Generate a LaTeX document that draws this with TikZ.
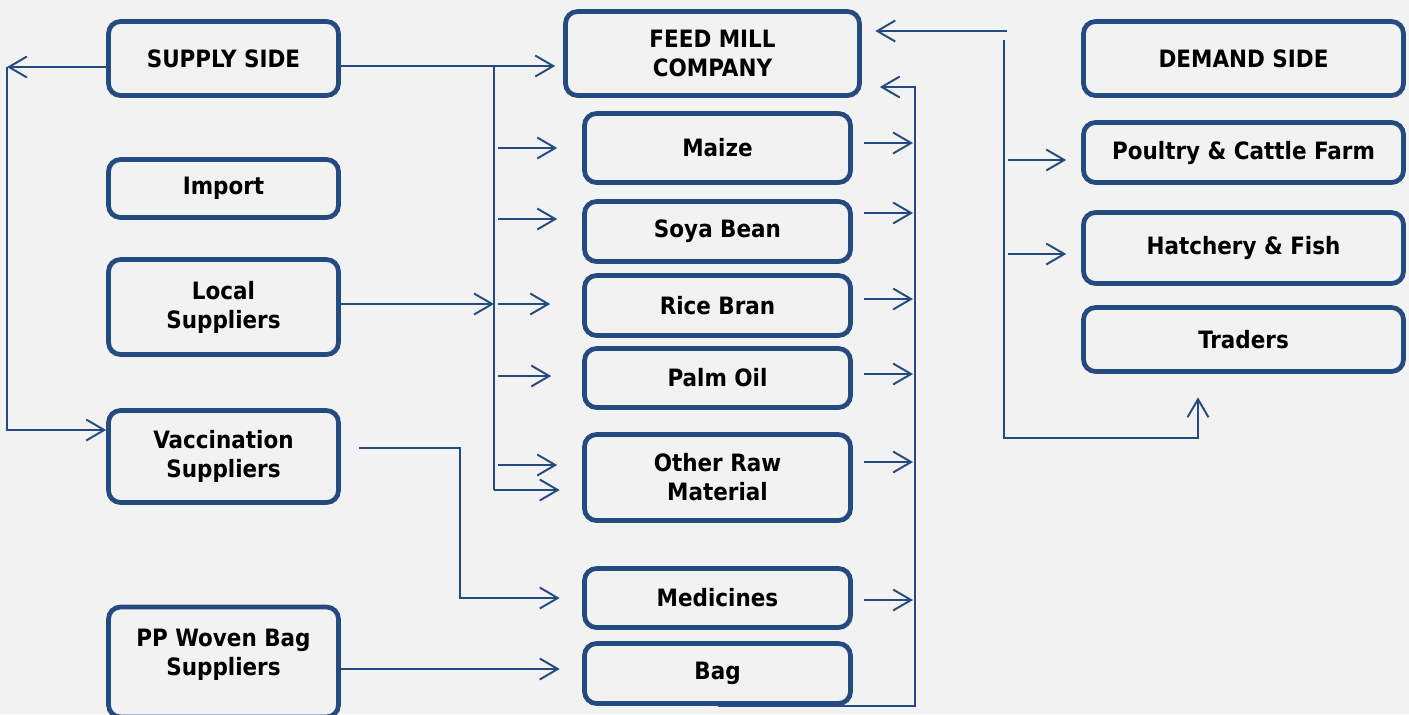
\documentclass[tikz,border=0pt]{standalone}
\usepackage{fontspec}
\setmainfont{DejaVu Sans Condensed}
\usetikzlibrary{arrows.meta,calc}

\definecolor{fmblue}{RGB}{36,74,128}
\definecolor{bggray}{RGB}{242,242,242}

\tikzset{
    box/.style={draw=fmblue, line width=2.7pt, rounded corners=0.24cm, fill=bggray,
        align=center, inner sep=0pt,
        font=\fontsize{13.6}{16.5}\selectfont\bfseries},
    lbox/.style={box, minimum width=4.6cm},
    mbox/.style={box, minimum width=5.32cm},
    rbox/.style={box, minimum width=6.4cm},
    ln/.style={draw=fmblue, line width=1.1pt},
    arr/.style={ln, -{Straight Barb[length=0.36cm, width=0.42cm]}},
}

\begin{document}
\begin{tikzpicture}[x=0.02cm, y=-0.02cm]
            \fill[bggray] (0,0) rectangle (1409,714);
            \useasboundingbox (0,0) rectangle (1409,714);

            % supply side
            \node[lbox, minimum height=1.48cm] (ss) at (223.5,58.5) {SUPPLY SIDE};
            \node[lbox, minimum height=1.16cm] (im) at (223.5,188.5) {Import};
            \node[lbox, minimum height=1.9cm] (ls) at (223.5,307) {Local\\Suppliers};
            \node[lbox, minimum height=1.84cm] (vs) at (223.5,456.5) {Vaccination\\Suppliers};
            \node[lbox, minimum height=2.2cm] (pp) at (223.5,662) {PP Woven Bag\\Suppliers\\[-0.2cm]\mbox{}};

            % feed mill and inputs
            \node[box, minimum width=5.88cm, minimum height=1.68cm] (fm) at (712.5,53.5) {FEED MILL\\COMPANY};
            \node[mbox, minimum height=1.38cm] (mz) at (717.5,148) {Maize};
            \node[mbox, minimum height=1.2cm] (sb) at (717.5,231.5) {Soya Bean};
            \node[mbox, minimum height=1.2cm] (rb) at (717.5,305.5) {Rice Bran};
            \node[mbox, minimum height=1.18cm] (po) at (717.5,378) {Palm Oil};
            \node[mbox, minimum height=1.72cm] (orm) at (717.5,477.5) {Other Raw\\Material};
            \node[mbox, minimum height=1.18cm] (md) at (717.5,598) {Medicines};
            \node[mbox, minimum height=1.2cm] (bg) at (717.5,673.5) {Bag};

            % demand side
            \node[rbox, minimum height=1.48cm] (ds) at (1243.5,58.5) {DEMAND SIDE};
            \node[rbox, minimum height=1.2cm] (pc) at (1243.5,152.5) {Poultry \& Cattle Farm};
            \node[rbox, minimum height=1.42cm] (hf) at (1243.5,248) {Hatchery \& Fish};
            \node[rbox, minimum height=1.28cm] (tr) at (1243.5,339.5) {Traders};

            % corners of the connectors
            \coordinate (lc) at (7,67);
            \coordinate (lv) at (7,430);
            \coordinate (jt) at (494,66);
            \coordinate (jb) at (494,490);
            \coordinate (vk) at (460,448);
            \coordinate (rt) at (915,87);
            \coordinate (dtop) at (1007,31);
            \coordinate (dv) at (1004,40);
            \coordinate (dr) at (1198,438);

            % left side
            \draw[arr] (ss.west |- lc) -- (lc);
            \draw[arr] (lc) -- (lv) -- (vs.west |- lv);
            \draw[arr, shorten >=0.16cm] (ss.east |- jt) -- (fm.west |- jt);
            \draw[ln] (jt) -- (jb);
            \draw[arr, shorten >=0.45cm] (jb) -- (orm.west |- jb);
            \draw[arr] (ls.east |- 0,304) -- (jt |- 0,304);
            \foreach \n/\dy/\s in {mz/0/0.5, sb/-12.5/0.5, rb/-1.5/0.64, po/-2/0.62, orm/-12.5/0.5}
                \draw[arr, shorten >=\s cm] ($(jt |- \n.west)+(4,\dy)$) -- ($(\n.west)+(0,\dy)$);
            \draw[arr, shorten <=0.37cm, shorten >=0.45cm] (vs.east |- vk) -- (vk) |- (md.west);
            \draw[arr, shorten >=0.45cm] (pp.east |- 0,669) -- (bg.west |- 0,669);

            % right of the inputs
            \foreach \n/\dy in {mz/-5, sb/-18.5, rb/-6.5, po/-4, orm/-15.5, md/2}
                \draw[arr, shorten <=0.22cm] ($(\n.east)+(0,\dy)$) -- ($(rt |- \n.east)+(-2,\dy)$);
            \draw[arr, shorten >=0.36cm] (bg.south) -| (rt) -- (fm.east |- rt);

            % demand side
            \draw[arr, shorten >=0.27cm] (dtop) -- (fm.east |- dtop);
            \draw[arr, shorten >=0.47cm] (dv) |- (dr) -- (dr |- tr.south);
            \draw[arr, shorten >=0.3cm] (1008,160) -- (pc.west |- 0,160);
            \draw[arr, shorten >=0.3cm] (1008,254) -- (hf.west |- 0,254);
\end{tikzpicture}
\end{document}
